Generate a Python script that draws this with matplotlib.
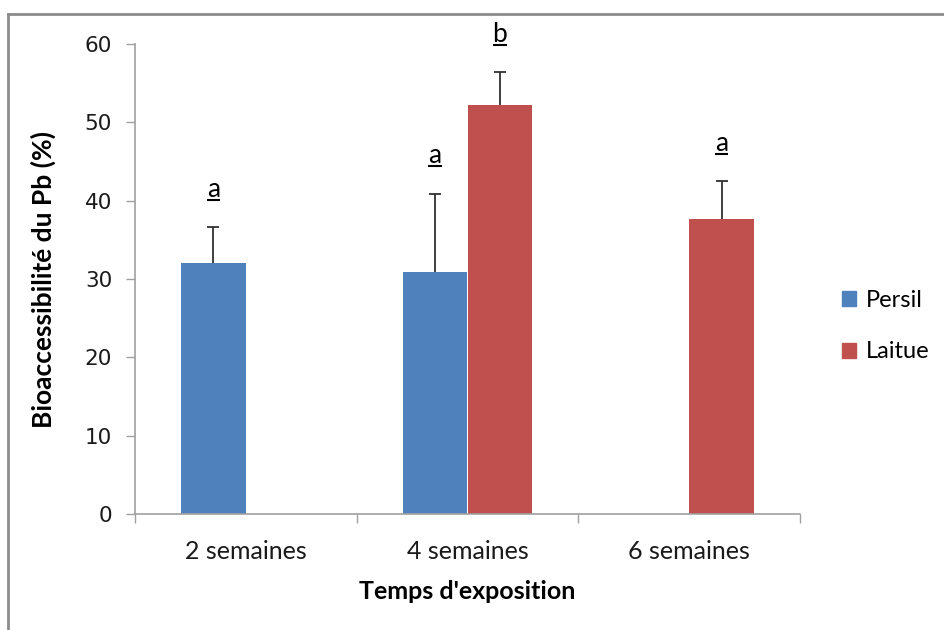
import numpy as np
import matplotlib
matplotlib.use("Agg")
import matplotlib.pyplot as plt
from matplotlib.transforms import offset_copy
from matplotlib.patches import Patch
from matplotlib.lines import Line2D

# Data
categories = ["2 semaines", "4 semaines", "6 semaines"]
persil = [32.0, 30.9, np.nan]
persil_err = [4.6, 10.0, np.nan]
laitue = [np.nan, 52.2, 37.6]
laitue_err = [np.nan, 4.2, 4.9]
persil_letters = ["a", "a", None]
laitue_letters = [None, "b", "a"]

blue = "#4F81BD"
red = "#C0504D"
axis_grey = "#A0A0A0"

fig = plt.figure(figsize=(9.44, 6.3), dpi=100)
ax = fig.add_axes([135 / 944, 1 - 514 / 630, 665 / 944, 470 / 630])

x = np.arange(len(categories))
w = 0.293

ax.bar(x - w / 2, persil, w, color=blue, label="Persil", zorder=2)
ax.bar(x + w / 2, laitue, w, color=red, label="Laitue", zorder=2)

# upper error bars only, cap on top
for xs, vals, errs in [(x - w / 2, persil, persil_err),
                       (x + w / 2, laitue, laitue_err)]:
    tops = np.array(vals) + np.array(errs)
    ax.vlines(xs, vals, tops, color="#303030", lw=1.3, zorder=3)
    ax.plot(xs, tops, ls="none", marker="_", ms=9, mew=1.3,
            color="#303030", zorder=3)

# underlined significance letters above error bars
text_tr = offset_copy(ax.transData, fig=fig, y=22, units="points")
line_tr = offset_copy(ax.transData, fig=fig, y=19.8, units="points")
for xs, vals, errs, letters in [(x - w / 2, persil, persil_err, persil_letters),
                                (x + w / 2, laitue, laitue_err, laitue_letters)]:
    for xi, v, e, lt in zip(xs, vals, errs, letters):
        if lt is None:
            continue
        top = v + e
        ax.text(xi, top, lt, transform=text_tr, ha="center", va="baseline",
                fontsize=19, family="Lato", color="black", clip_on=False)
        ax.plot([xi - 0.03, xi + 0.03], [top, top], transform=line_tr,
                color="black", lw=1.5, clip_on=False, solid_capstyle="butt")

ax.set_xlim(-0.5, 2.5)
ax.set_ylim(0, 60)
ax.set_yticks(range(0, 61, 10))
ax.set_xticks(x)
ax.set_xticklabels(categories, fontsize=18, family="Lato", color="#1a1a1a")
ax.set_xticks([-0.5, 0.5, 1.5, 2.5], minor=True)
ax.tick_params(axis="x", which="major", length=0, pad=19)
ax.tick_params(axis="x", which="minor", length=6.5, width=1, color=axis_grey)
ax.tick_params(axis="y", length=6.5, width=1, color=axis_grey, pad=10,
               labelsize=15.5, labelcolor="#1a1a1a")

for s in ["top", "right"]:
    ax.spines[s].set_visible(False)
for s in ["left", "bottom"]:
    ax.spines[s].set_color(axis_grey)
    ax.spines[s].set_linewidth(1.2)

ax.set_xlabel("Temps d'exposition", fontsize=18, family="Lato",
              fontweight="bold", labelpad=12)
ax.set_ylabel("Bioaccessibilité du Pb (%)", fontsize=19, family="Lato",
              fontweight="bold", labelpad=21)

handles = [Patch(color=blue), Patch(color=red)]
leg = fig.legend(handles, ["Persil", "Laitue"], loc="center left",
                 bbox_to_anchor=(842 / 944, 1 - 326 / 630), frameon=False,
                 prop={"family": "Lato", "size": 17}, handlelength=0.6,
                 handleheight=0.6, handletextpad=0.4, labelspacing=1.3,
                 borderpad=0, borderaxespad=0)

# frame of the cropped screenshot (top and left edges only)
fig.add_artist(Line2D([8 / 944, 1], [1 - 14 / 630, 1 - 14 / 630],
                      transform=fig.transFigure, color="#8C8C8C", lw=2))
fig.add_artist(Line2D([8 / 944, 8 / 944], [0, 1 - 14 / 630],
                      transform=fig.transFigure, color="#8C8C8C", lw=2))

fig.savefig("out.png", dpi=100)
